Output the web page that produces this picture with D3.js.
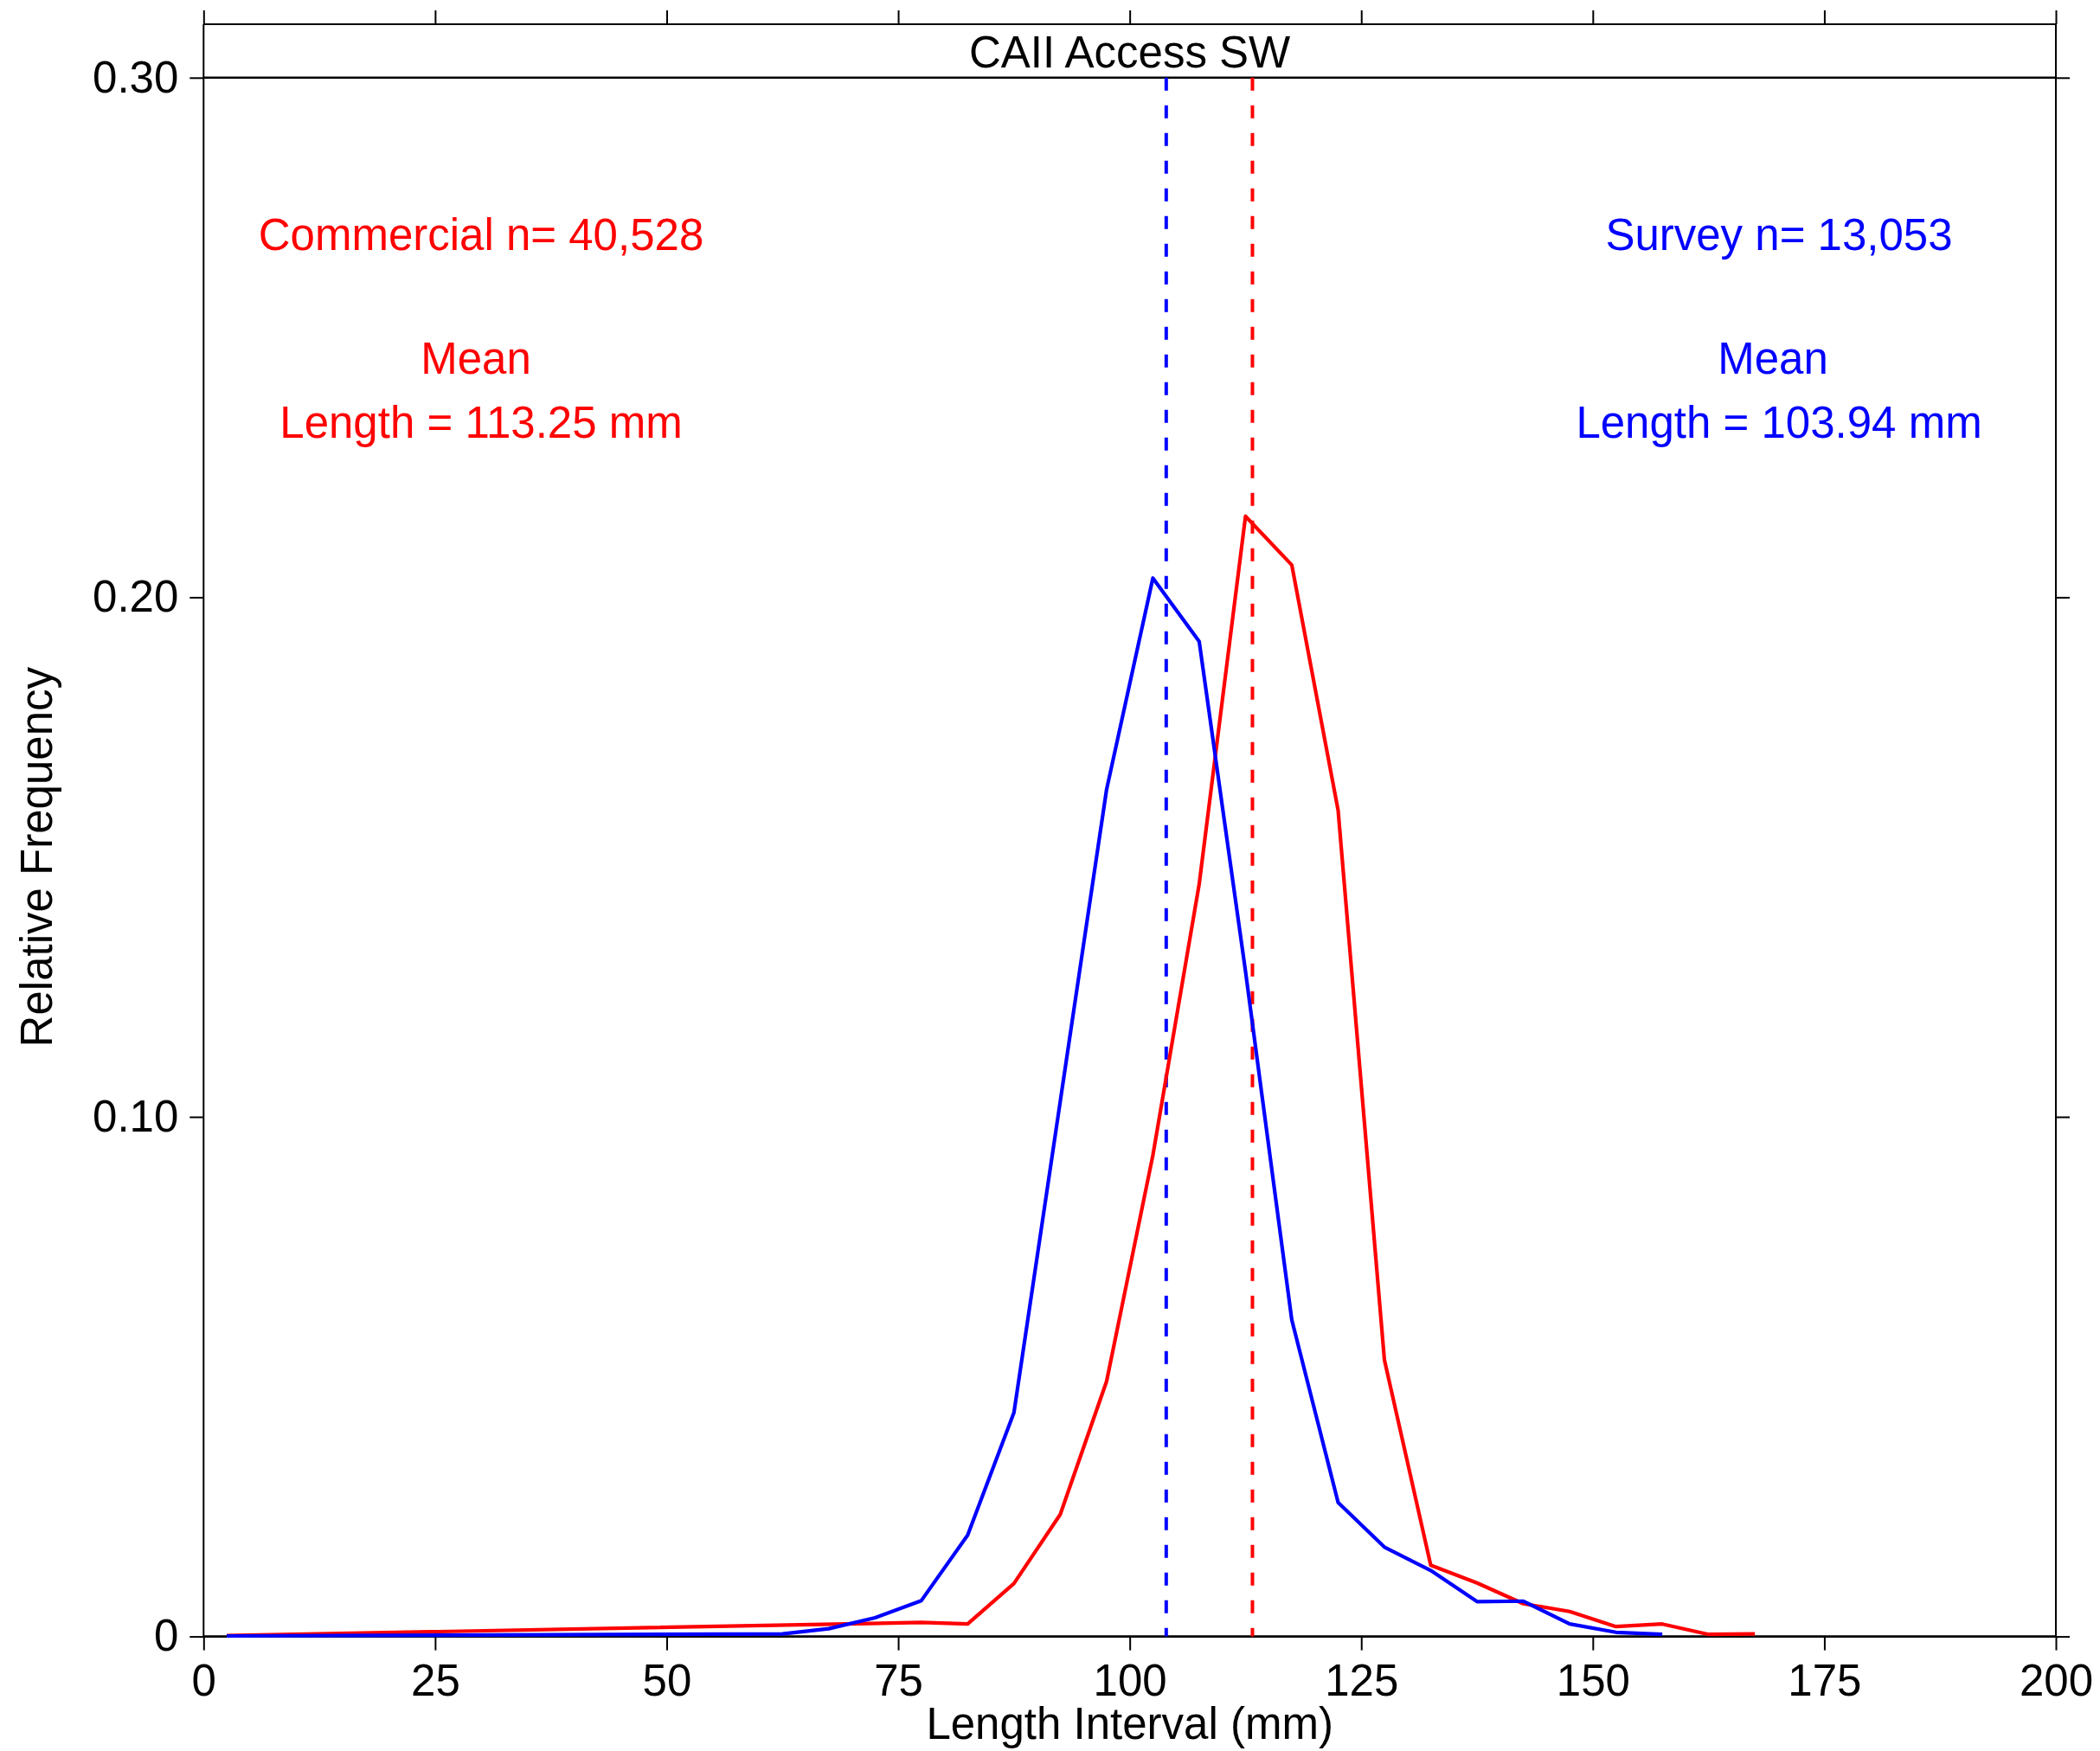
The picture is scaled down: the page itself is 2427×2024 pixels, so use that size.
<!DOCTYPE html>
<html>
<head>
<meta charset="utf-8">
<script src="https://cdn.jsdelivr.net/npm/d3@7"></script>
<style>
  body { margin: 0; background: #fff; }
  svg text { font-family: "Liberation Sans", Arial, sans-serif; }
</style>
</head>
<body>
<div id="chart"></div>
<script>
'use strict';

// commercial catch (red)
var commercialLength = [2.5, 77.5, 82.5, 87.5, 92.5, 97.5, 102.5, 107.5, 112.5, 117.5,
  122.5, 127.5, 132.5, 137.5, 142.5, 147.5, 152.5, 157.5, 162.5, 167.5];
var commercialFreq = [0.00015, 0.0027, 0.0024, 0.0102, 0.0235, 0.0491, 0.0926, 0.1448, 0.2156, 0.2062,
  0.159, 0.0532, 0.0137, 0.0103, 0.0063, 0.0048, 0.0019, 0.0024, 0.0004, 0.0005];

// survey (blue)
var surveyLength = [2.5, 62.5, 67.5, 72.5, 77.5, 82.5, 87.5, 92.5, 97.5, 102.5, 107.5,
  112.5, 117.5, 122.5, 127.5, 132.5, 137.5, 142.5, 147.5, 152.5, 157.5];
var surveyFreq = [0.0001, 0.0005, 0.0015, 0.0036, 0.0069, 0.0195, 0.0431, 0.103, 0.163, 0.2037, 0.1915,
  0.128, 0.0609, 0.0258, 0.0172, 0.0127, 0.0067, 0.0068, 0.0024, 0.0008, 0.0004];

var meanLengths = [113.25, 103.94];
var xTicks = [0, 25, 50, 75, 100, 125, 150, 175, 200];
var yTicks = [0, 0.10, 0.20, 0.30];
var yTickLabels = ['0', '0.10', '0.20', '0.30'];

var width = 2427, height = 2024;
var margin = {top: 89.8, right: 51, bottom: 132.4, left: 235.3};
var boxTop = 28;
var tickLen = 16;
var fontSize = 51;

var svg = d3.select('#chart').append('svg')
  .attr('width', width)
  .attr('height', height)
  .style('background', '#fff');

var x = d3.scaleLinear().domain([0, 200]).range([margin.left, width - margin.right]);
var y = d3.scaleLinear().domain([0, 0.30]).range([height - margin.bottom, margin.top]);

var x0 = x.range()[0], x1 = x.range()[1];
var yBottom = y(0), yTop = y(0.30);

function styleAxis(g) {
  g.select('.domain').remove();
  g.selectAll('.tick line').attr('stroke', '#000').attr('stroke-width', 2);
  g.selectAll('.tick text')
    .attr('fill', '#000')
    .style('font-size', fontSize + 'px');
}

// bottom axis
svg.append('g')
  .attr('transform', 'translate(0,' + yBottom + ')')
  .call(d3.axisBottom(x).tickValues(xTicks).tickSize(tickLen).tickPadding(16).tickFormat(d3.format('d')))
  .call(styleAxis);

// top ticks above the title box
svg.append('g')
  .attr('transform', 'translate(0,' + boxTop + ')')
  .call(d3.axisTop(x).tickValues(xTicks).tickSize(tickLen).tickFormat(''))
  .call(styleAxis);

// left axis
svg.append('g')
  .attr('transform', 'translate(' + x0 + ',0)')
  .call(d3.axisLeft(y).tickValues(yTicks).tickSize(tickLen).tickPadding(13)
    .tickFormat(function(d, i) { return yTickLabels[i]; }))
  .call(styleAxis);

// right axis
svg.append('g')
  .attr('transform', 'translate(' + x1 + ',0)')
  .call(d3.axisRight(y).tickValues(yTicks).tickSize(tickLen).tickFormat(''))
  .call(styleAxis);

// frame
var frame = svg.append('g').attr('stroke', '#000').attr('fill', 'none');
frame.append('line').attr('x1', x0).attr('x2', x0).attr('y1', boxTop).attr('y2', yBottom).attr('stroke-width', 2);
frame.append('line').attr('x1', x1).attr('x2', x1).attr('y1', boxTop).attr('y2', yBottom).attr('stroke-width', 2);
frame.append('line').attr('x1', x0).attr('x2', x1).attr('y1', boxTop).attr('y2', boxTop).attr('stroke-width', 2);
frame.append('line').attr('x1', x0).attr('x2', x1).attr('y1', yTop).attr('y2', yTop).attr('stroke-width', 2.6);
frame.append('line').attr('x1', x0).attr('x2', x1).attr('y1', yBottom).attr('y2', yBottom).attr('stroke-width', 2.6);

// title inside the box
svg.append('text')
  .attr('x', (x0 + x1) / 2)
  .attr('y', 78)
  .attr('text-anchor', 'middle')
  .style('font-size', fontSize + 'px')
  .text('CAII Access SW');

// axis labels
svg.append('text')
  .attr('x', (x0 + x1) / 2)
  .attr('y', 2010)
  .attr('text-anchor', 'middle')
  .style('font-size', fontSize + 'px')
  .text('Length Interval (mm)');

svg.append('text')
  .attr('transform', 'translate(60,' + ((yTop + yBottom) / 2) + ') rotate(-90)')
  .attr('text-anchor', 'middle')
  .style('font-size', fontSize + 'px')
  .text('Relative Frequency');

// mean lines
var meanColors = ['#ff0000', '#0000ff'];
svg.selectAll('.mean-line')
  .data(meanLengths)
  .enter()
  .append('line')
  .attr('class', 'mean-line')
  .attr('x1', function(d) { return x(d); })
  .attr('x2', function(d) { return x(d); })
  .attr('y1', yTop)
  .attr('y2', yBottom)
  .attr('stroke', function(d, i) { return meanColors[i]; })
  .attr('stroke-width', 4)
  .attr('stroke-dasharray', '15,17');

// curves
var line = d3.line()
  .x(function(d) { return x(d[0]); })
  .y(function(d) { return y(d[1]); });

var commercial = d3.zip(commercialLength, commercialFreq);
var survey = d3.zip(surveyLength, surveyFreq);

svg.append('path')
  .datum(commercial)
  .attr('d', line)
  .attr('fill', 'none')
  .attr('stroke', '#ff0000')
  .attr('stroke-width', 4.2)
  .attr('stroke-linejoin', 'round');

svg.append('path')
  .datum(survey)
  .attr('d', line)
  .attr('fill', 'none')
  .attr('stroke', '#0000ff')
  .attr('stroke-width', 4.2)
  .attr('stroke-linejoin', 'round');

// annotations
var notes = [
  {text: 'Commercial n= 40,528', cx: 556, y: 289, color: '#ff0000'},
  {text: 'Mean', cx: 550, y: 432, color: '#ff0000'},
  {text: 'Length = 113.25 mm', cx: 556, y: 506, color: '#ff0000'},
  {text: 'Survey n= 13,053', cx: 2056, y: 289, color: '#0000ff'},
  {text: 'Mean', cx: 2049, y: 432, color: '#0000ff'},
  {text: 'Length = 103.94 mm', cx: 2056, y: 506, color: '#0000ff'}
];

svg.selectAll('.note')
  .data(notes)
  .enter()
  .append('text')
  .attr('class', 'note')
  .attr('x', function(d) { return d.cx; })
  .attr('y', function(d) { return d.y; })
  .attr('text-anchor', 'middle')
  .attr('fill', function(d) { return d.color; })
  .style('font-size', fontSize + 'px')
  .text(function(d) { return d.text; });
</script>
</body>
</html>
